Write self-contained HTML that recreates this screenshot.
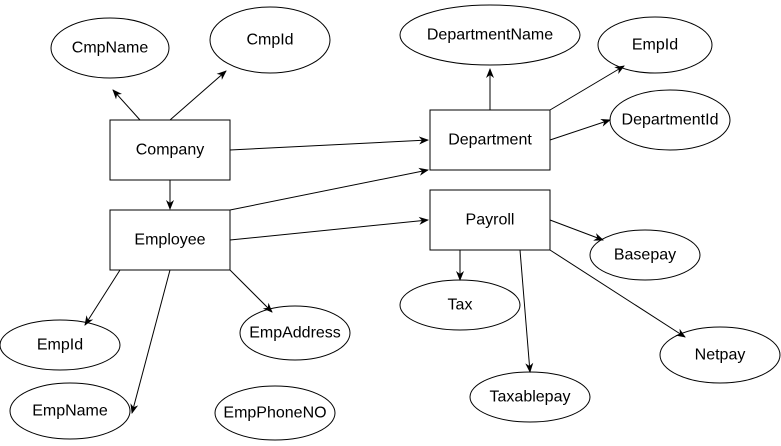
<!DOCTYPE html>
<html><head><style>
html,body{margin:0;padding:0;background:#fff;}
svg text{font-family:"Liberation Sans",Helvetica,Arial,sans-serif;font-size:16px;fill:#000;}
</style></head><body>
<svg width="781" height="441" viewBox="0 0 781 441" xmlns="http://www.w3.org/2000/svg">
<defs><marker id="a" markerWidth="10" markerHeight="10" refX="9" refY="5" orient="auto" markerUnits="userSpaceOnUse"><path d="M0,1 L10,5 L0,9 L3,5 Z" fill="#000"/></marker></defs>
<g fill="#fff" stroke="#000" stroke-width="1">
<ellipse cx="110" cy="48" rx="59" ry="30"/>
<ellipse cx="270" cy="40" rx="60" ry="33"/>
<ellipse cx="490" cy="35" rx="90" ry="30"/>
<ellipse cx="655" cy="45" rx="57" ry="28"/>
<ellipse cx="670" cy="120" rx="60" ry="30"/>
<ellipse cx="645" cy="255" rx="55" ry="25"/>
<ellipse cx="460" cy="305" rx="60" ry="25"/>
<ellipse cx="720" cy="355" rx="60" ry="28"/>
<ellipse cx="530" cy="397" rx="60" ry="25"/>
<ellipse cx="60" cy="345" rx="60" ry="25"/>
<ellipse cx="295" cy="333" rx="55" ry="27"/>
<ellipse cx="70" cy="411" rx="60" ry="28"/>
<ellipse cx="275" cy="413" rx="60" ry="27"/>
<rect x="110" y="120" width="120" height="60"/>
<rect x="430" y="110" width="120" height="60"/>
<rect x="110" y="210" width="120" height="60"/>
<rect x="430" y="190" width="120" height="60"/>
</g>
<g stroke="#000" stroke-width="1" marker-end="url(#a)">
<line x1="140" y1="120" x2="113" y2="90"/>
<line x1="170" y1="120" x2="226" y2="71"/>
<line x1="230" y1="150" x2="428" y2="140"/>
<line x1="170" y1="180" x2="170" y2="209"/>
<line x1="230" y1="210" x2="428" y2="170"/>
<line x1="230" y1="240" x2="428" y2="220"/>
<line x1="490" y1="110" x2="490" y2="69"/>
<line x1="550" y1="110" x2="624" y2="66"/>
<line x1="550" y1="140" x2="610" y2="120"/>
<line x1="460" y1="250" x2="460" y2="280"/>
<line x1="550" y1="220" x2="603" y2="240"/>
<line x1="520" y1="250" x2="530" y2="372"/>
<line x1="550" y1="250" x2="685" y2="337"/>
<line x1="120" y1="270" x2="85" y2="325"/>
<line x1="170" y1="270" x2="132" y2="413"/>
<line x1="230" y1="270" x2="272" y2="312"/>
</g>
<g text-anchor="middle" dominant-baseline="central">
<text x="110" y="48">CmpName</text>
<text x="270" y="40">CmpId</text>
<text x="490" y="35">DepartmentName</text>
<text x="655" y="45">EmpId</text>
<text x="670" y="120">DepartmentId</text>
<text x="645" y="255">Basepay</text>
<text x="460" y="305">Tax</text>
<text x="720" y="355">Netpay</text>
<text x="530" y="397">Taxablepay</text>
<text x="60" y="345">EmpId</text>
<text x="295" y="333">EmpAddress</text>
<text x="70" y="411">EmpName</text>
<text x="275" y="413">EmpPhoneNO</text>
<text x="170" y="150">Company</text>
<text x="490" y="140">Department</text>
<text x="170" y="240">Employee</text>
<text x="490" y="220">Payroll</text>
</g>
</svg>
</body></html>
